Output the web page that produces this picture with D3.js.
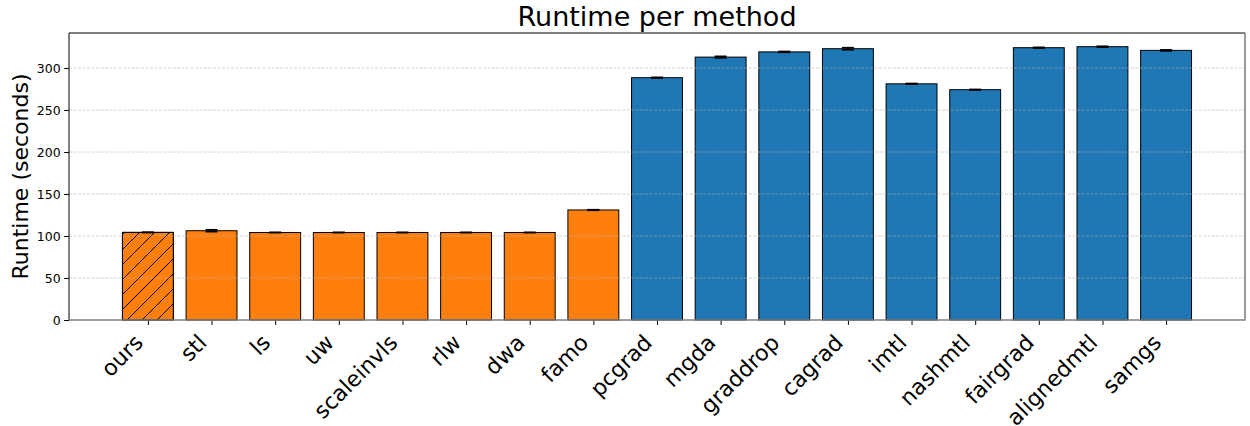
<!DOCTYPE html>
<html>
<head>
<meta charset="utf-8">
<script src="https://cdn.jsdelivr.net/npm/d3@7"></script>
<style>
  body { margin: 0; background: #fff; }
  text { font-family: "DejaVu Sans", sans-serif; }
</style>
</head>
<body>
<div id="chart"></div>
<script>
var svgWidth = 1250;
var svgHeight = 426;

var margin = { top: 33, right: 5, bottom: 106, left: 69 };

var width = svgWidth - margin.left - margin.right;
var height = svgHeight - margin.top - margin.bottom;

// data
var methods = ["ours", "stl", "ls", "uw", "scaleinvls", "rlw", "dwa", "famo",
  "pcgrad", "mgda", "graddrop", "cagrad", "imtl", "nashmtl", "fairgrad", "alignedmtl", "samgs"];
var runtimes = [104.3, 106.3, 104.2, 104.2, 104.2, 104.2, 104.2, 131.0,
  288.5, 313.0, 319.2, 323.0, 281.2, 274.2, 324.2, 325.4, 321.0];
var runtimeErr = [0.3, 1.2, 0.3, 0.3, 0.3, 0.3, 0.3, 0.4,
  0.5, 1.0, 0.6, 1.3, 0.5, 0.4, 0.5, 0.6, 0.7];
var groups = ["loss", "loss", "loss", "loss", "loss", "loss", "loss", "loss",
  "grad", "grad", "grad", "grad", "grad", "grad", "grad", "grad", "grad"];
var yTicks = [0, 50, 100, 150, 200, 250, 300];

var colors = { loss: "#ff7f0e", grad: "#1f77b4" };

var svg = d3.select("#chart")
  .append("svg")
  .attr("width", svgWidth)
  .attr("height", svgHeight);

// hatch pattern for our method
var defs = svg.append("defs");
defs.append("pattern")
  .attr("id", "hatch")
  .attr("patternUnits", "userSpaceOnUse")
  .attr("width", 15)
  .attr("height", 15)
  .append("path")
  .attr("d", "M0,15 L15,0 M-3.75,3.75 L3.75,-3.75 M11.25,18.75 L18.75,11.25")
  .attr("stroke", "#000")
  .attr("stroke-width", 1);

var chartGroup = svg.append("g")
  .attr("transform", `translate(${margin.left}, ${margin.top})`);

// x scale in bar-index units, with matplotlib style margins
var xLinearScale = d3.scaleLinear()
  .domain([-1.24, methods.length - 1 + 1.24])
  .range([0, width]);

var yLinearScale = d3.scaleLinear()
  .domain([0, 341.7])
  .range([height, 0]);

var barW = xLinearScale(0.8) - xLinearScale(0);

// bars
var bars = chartGroup.selectAll(".bar")
  .data(methods)
  .enter()
  .append("g");

bars.append("rect")
  .attr("x", (d, i) => xLinearScale(i - 0.4))
  .attr("y", (d, i) => yLinearScale(runtimes[i]))
  .attr("width", barW)
  .attr("height", (d, i) => height - yLinearScale(runtimes[i]))
  .attr("fill", (d, i) => colors[groups[i]])
  .attr("stroke", "#000")
  .attr("stroke-width", 1);

bars.filter(d => d == "ours")
  .append("rect")
  .attr("x", (d, i) => xLinearScale(0 - 0.4))
  .attr("y", yLinearScale(runtimes[0]))
  .attr("width", barW)
  .attr("height", height - yLinearScale(runtimes[0]))
  .attr("fill", "url(#hatch)")
  .attr("stroke", "#000")
  .attr("stroke-width", 1);

// grid lines (drawn over the bars like matplotlib)
chartGroup.append("g")
  .selectAll("line")
  .data(yTicks.slice(1))
  .enter()
  .append("line")
  .attr("x1", 0)
  .attr("x2", width)
  .attr("y1", d => yLinearScale(d))
  .attr("y2", d => yLinearScale(d))
  .attr("stroke", "#b0b0b0")
  .attr("stroke-opacity", 0.7)
  .attr("stroke-width", 0.8)
  .attr("stroke-dasharray", "3,1.5");

// error bars
var capW = 6;
bars.append("line")
  .attr("x1", (d, i) => xLinearScale(i))
  .attr("x2", (d, i) => xLinearScale(i))
  .attr("y1", (d, i) => yLinearScale(runtimes[i] - runtimeErr[i]))
  .attr("y2", (d, i) => yLinearScale(runtimes[i] + runtimeErr[i]))
  .attr("stroke", "#000")
  .attr("stroke-width", 1.5);

[-1, 1].forEach(function(s) {
  bars.append("line")
    .attr("x1", (d, i) => xLinearScale(i) - capW)
    .attr("x2", (d, i) => xLinearScale(i) + capW)
    .attr("y1", (d, i) => yLinearScale(runtimes[i] + s * runtimeErr[i]))
    .attr("y2", (d, i) => yLinearScale(runtimes[i] + s * runtimeErr[i]))
    .attr("stroke", "#000")
    .attr("stroke-width", 1.5);
});

// axes
var leftAxis = d3.axisLeft(yLinearScale)
  .tickValues(yTicks)
  .tickSize(4.9)
  .tickPadding(3.5);

var yAxis = chartGroup.append("g")
  .call(leftAxis);
yAxis.select(".domain").remove();
yAxis.selectAll("text")
  .attr("font-size", "12.5px")
  .attr("font-family", "DejaVu Sans")
  .attr("fill", "#000");

var bottomAxis = d3.axisBottom(xLinearScale)
  .tickValues(d3.range(methods.length))
  .tickSize(4.9)
  .tickFormat(i => methods[i]);

var xAxis = chartGroup.append("g")
  .attr("transform", `translate(0,${height})`)
  .call(bottomAxis);
xAxis.select(".domain").remove();
xAxis.selectAll("text")
  .attr("font-size", "22px")
  .attr("font-family", "DejaVu Sans")
  .attr("fill", "#000")
  .attr("text-anchor", "end")
  .attr("dy", null)
  .attr("y", null)
  .attr("transform", "translate(-4,24) rotate(-45)");

// frame: top and left black, right and bottom grey
chartGroup.append("path")
  .attr("d", `M0,${height} V0 H${width}`)
  .attr("fill", "none")
  .attr("stroke", "#000")
  .attr("stroke-width", 1);

chartGroup.append("path")
  .attr("d", `M${width},0 V${height} H0`)
  .attr("fill", "none")
  .attr("stroke", "#808080")
  .attr("stroke-width", 1.6);

// labels
svg.append("text")
  .attr("x", margin.left + width / 2)
  .attr("y", 26)
  .attr("text-anchor", "middle")
  .attr("font-size", "27px")
  .text("Runtime per method");

svg.append("text")
  .attr("transform", `translate(28, ${margin.top + height / 2}) rotate(-90)`)
  .attr("text-anchor", "middle")
  .attr("font-size", "22px")
  .text("Runtime (seconds)");
</script>
</body>
</html>
